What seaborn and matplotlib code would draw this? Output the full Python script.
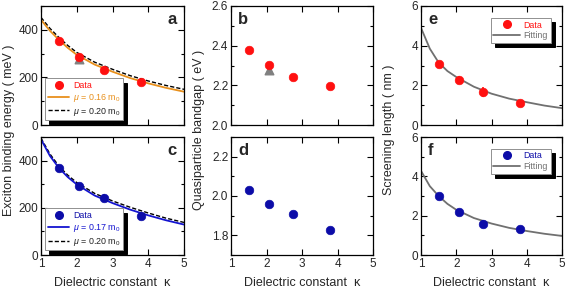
import matplotlib
matplotlib.use("Agg")
import matplotlib.pyplot as plt
import seaborn as sns
import numpy as np
import pandas as pd
from matplotlib.ticker import MultipleLocator
from matplotlib.lines import Line2D

sns.set_style("ticks")
plt.rcParams['font.family'] = ['Liberation Sans', 'DejaVu Sans']
plt.rcParams['mathtext.fontset'] = 'custom'
plt.rcParams['mathtext.it'] = 'Liberation Sans:italic'
plt.rcParams['mathtext.rm'] = 'Liberation Sans'

# ---------------- data ----------------
kappa = [1.5, 2.07, 2.75, 3.8]

# panel a: exciton binding energy (red sample)
eb_red = [355, 285, 232, 180]
eb_red_err = [14, 14, 18, 10]
tri_kappa = [2.07]
eb_tri = [277]

# panel c: exciton binding energy (blue sample)
eb_blue = [369, 292, 241, 167]
eb_blue_err = [14, 12, 16, 10]

# fit curves
kgrid = [1.0, 1.25, 1.5, 1.75, 2.0, 2.5, 3.0, 3.5, 4.0, 4.5, 5.0]
fit_a_016 = [442, 396, 358, 324, 295, 254, 224, 197, 175, 156, 140]
fit_a_020 = [452, 406, 368, 334, 305, 264, 234, 207, 185, 166, 150]
fit_c_017 = [490, 420, 369, 330, 299, 252, 220, 192, 168, 147, 129]
fit_c_020 = [495, 428, 377, 338, 307, 261, 229, 202, 178, 156, 138]

# panel b / d: quasiparticle bandgap
qp_red = [2.38, 2.305, 2.24, 2.195]
qp_red_err = [0.01, 0.012, 0.015, 0.01]
qp_tri = [2.275]
qp_blue = [2.03, 1.96, 1.91, 1.825]
qp_blue_err = [0.01, 0.008, 0.012, 0.01]

# panel e / f: screening length
sl_red = [3.1, 2.25, 1.65, 1.1]
sl_red_err = [0.15, 0.2, 0.25, 0.1]
sl_blue = [3.0, 2.2, 1.58, 1.3]
sl_blue_err = [0.15, 0.15, 0.2, 0.1]
fit_e = [4.9, 3.85, 3.15, 2.72, 2.42, 1.93, 1.58, 1.33, 1.15, 0.98, 0.85]
fit_f = [4.28, 3.5, 3.0, 2.6, 2.3, 1.88, 1.6, 1.38, 1.22, 1.08, 0.97]

RED = '#ff1010'
NAVY = '#0c0ca8'
BLUE = '#1414d0'
ORANGE = '#e8901c'
GRAY = '#707070'

fig = plt.figure(figsize=(5.68, 2.92), dpi=100)
W, H = 568.0, 292.0

def mk_ax(l, t, r, b):
    return fig.add_axes([l / W, 1 - b / H, (r - l) / W, (b - t) / H])

ax_a = mk_ax(41, 6, 184, 125)
ax_c = mk_ax(41, 137, 184, 255)
ax_b = mk_ax(231, 6, 373, 125)
ax_d = mk_ax(231, 137, 373, 255)
ax_e = mk_ax(421, 6, 562, 125)
ax_f = mk_ax(421, 137, 562, 255)

TS = 8.5

def style(ax, ylim, major, minor, bottom):
    ax.set_xlim(1, 5)
    ax.set_ylim(*ylim)
    ax.xaxis.set_major_locator(MultipleLocator(1))
    ax.yaxis.set_major_locator(MultipleLocator(major))
    ax.yaxis.set_minor_locator(MultipleLocator(minor))
    ax.tick_params(which='both', direction='in', top=True, right=True,
                   labelsize=TS, pad=2, width=0.8, color='black')
    ax.tick_params(which='major', length=4)
    ax.tick_params(which='minor', length=2.5)
    if not bottom:
        ax.tick_params(axis='x', labelbottom=False)
    for s in ax.spines.values():
        s.set_linewidth(0.9)
        s.set_color('black')
    ax.set_xlabel('')
    ax.set_ylabel('')

def data_points(ax, y, err, color):
    df = pd.DataFrame({'k': kappa, 'v': y})
    ax.errorbar(kappa, y, yerr=err, fmt='none', ecolor=color, elinewidth=1.2, capsize=0, zorder=3)
    sns.scatterplot(data=df, x='k', y='v', ax=ax, color=color, s=38, edgecolor=color,
                    linewidth=0.5, zorder=4, legend=False)

def curve(ax, y, color, ls='-', lw=1.2):
    df = pd.DataFrame({'k': kgrid, 'v': y})
    sns.lineplot(data=df, x='k', y='v', ax=ax, color=color, linestyle=ls, lw=lw, zorder=2,
                 legend=False)

DASH = (0, (3, 1.5))

# panel a
curve(ax_a, fit_a_020, 'black', ls=DASH, lw=1.0)
curve(ax_a, fit_a_016, ORANGE, lw=1.3)
data_points(ax_a, eb_red, eb_red_err, RED)
ax_a.scatter(tri_kappa, eb_tri, marker='^', s=38, color='#808080', zorder=3)
style(ax_a, (0, 500), 200, 100, False)

# panel c
curve(ax_c, fit_c_020, 'black', ls=DASH, lw=1.0)
curve(ax_c, fit_c_017, BLUE, lw=1.3)
data_points(ax_c, eb_blue, eb_blue_err, NAVY)
style(ax_c, (0, 500), 200, 100, True)

# panel b
data_points(ax_b, qp_red, qp_red_err, RED)
ax_b.scatter(tri_kappa, qp_tri, marker='^', s=38, color='#808080', zorder=3)
style(ax_b, (2.0, 2.6), 0.2, 0.1, False)

# panel d
data_points(ax_d, qp_blue, qp_blue_err, NAVY)
style(ax_d, (1.7, 2.3), 0.2, 0.1, True)

# panel e
curve(ax_e, fit_e, GRAY, lw=1.3)
data_points(ax_e, sl_red, sl_red_err, RED)
style(ax_e, (0, 6), 2, 1, False)

# panel f
curve(ax_f, fit_f, GRAY, lw=1.3)
data_points(ax_f, sl_blue, sl_blue_err, NAVY)
style(ax_f, (0, 6), 2, 1, True)

# panel letters
for ax, lab, x, ha in [(ax_a, 'a', 0.95, 'right'), (ax_c, 'c', 0.95, 'right'),
                       (ax_b, 'b', 0.05, 'left'), (ax_d, 'd', 0.05, 'left'),
                       (ax_e, 'e', 0.05, 'left'), (ax_f, 'f', 0.05, 'left')]:
    ax.text(x, 0.95, lab, transform=ax.transAxes, ha=ha, va='top',
            fontsize=12, fontweight='bold')

def legend(ax, handles, labels, colors, loc, anchor, hl=2.4):
    lg = ax.legend(handles, labels, loc=loc, bbox_to_anchor=anchor, fontsize=6.4,
                   frameon=True, fancybox=False,
                   shadow={'color': 'black', 'alpha': 1, 'ox': 3, 'oy': -3},
                   handlelength=hl, handletextpad=0.4, borderpad=0.3, labelspacing=0.2,
                   borderaxespad=0.0)
    lg.get_frame().set_edgecolor('#909090')
    lg.get_frame().set_linewidth(0.7)
    for t, c in zip(lg.get_texts(), colors):
        t.set_color(c)
    return lg

hd_red = Line2D([], [], marker='o', ls='none', color=RED, markersize=5.5)
hd_navy = Line2D([], [], marker='o', ls='none', color=NAVY, markersize=5.5)
legend(ax_a, [hd_red, Line2D([], [], color=ORANGE, lw=1.3),
              Line2D([], [], color='black', lw=1.0, ls=DASH)],
       ['Data', r'$\mu$ = 0.16 m$_0$', r'$\mu$ = 0.20 m$_0$'],
       [RED, ORANGE, '#222222'], 'lower left', (0.03, 0.04))
legend(ax_c, [hd_navy, Line2D([], [], color=BLUE, lw=1.3),
              Line2D([], [], color='black', lw=1.0, ls=DASH)],
       ['Data', r'$\mu$ = 0.17 m$_0$', r'$\mu$ = 0.20 m$_0$'],
       [NAVY, BLUE, '#222222'], 'lower left', (0.03, 0.04))
legend(ax_e, [hd_red, Line2D([], [], color=GRAY, lw=1.3)], ['Data', 'Fitting'],
       [RED, GRAY], 'upper right', (0.92, 0.9), hl=3.0)
legend(ax_f, [hd_navy, Line2D([], [], color=GRAY, lw=1.3)], ['Data', 'Fitting'],
       [NAVY, GRAY], 'upper right', (0.92, 0.9), hl=3.0)

# shared labels
LS = 9
fig.text(9 / W, 1 - 130 / H, 'Exciton binding energy ( meV )', rotation=90,
         ha='center', va='center', fontsize=LS)
fig.text(199 / W, 1 - 130 / H, 'Quasiparticle bandgap ( eV )', rotation=90,
         ha='center', va='center', fontsize=LS)
fig.text(389 / W, 1 - 130 / H, 'Screening length ( nm )', rotation=90,
         ha='center', va='center', fontsize=LS)
for xc in [112, 302, 491]:
    fig.text(xc / W, 1 - 283 / H, 'Dielectric constant  κ', ha='center', va='center',
             fontsize=LS)

fig.savefig('out.png', dpi=100)
